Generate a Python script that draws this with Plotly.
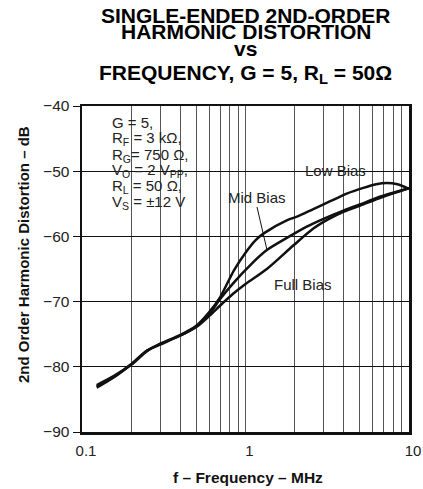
import plotly.graph_objects as go

# ---- data ----
freq_low = [0.123, 0.157, 0.2, 0.25, 0.3, 0.4, 0.5, 0.6, 0.7, 0.85, 1.0, 1.15, 1.3, 1.8, 2.1, 2.6, 3.3, 4.2, 5.2, 6.3, 7.3, 8.5, 10]
low_bias = [-83.0, -81.5, -79.7, -77.6, -76.5, -75.1, -73.7, -71.6, -69.3, -65.2, -62.5, -60.6, -59.5, -57.5, -56.9, -55.8, -54.6, -53.4, -52.6, -52.0, -51.8, -52.0, -52.7]

freq_mid = [0.123, 0.157, 0.2, 0.25, 0.3, 0.4, 0.5, 0.6, 0.7, 0.84, 1.07, 1.35, 1.8, 2.37, 3.0, 4.0, 5.0, 6.5, 8.0, 10]
mid_bias = [-83.2, -81.6, -79.6, -77.5, -76.5, -75.2, -73.8, -71.9, -69.6, -67.2, -64.4, -62.1, -60.2, -58.5, -57.3, -56.0, -55.1, -54.0, -53.3, -52.6]

freq_full = [0.123, 0.157, 0.2, 0.25, 0.3, 0.4, 0.5, 0.6, 0.7, 0.84, 1.0, 1.35, 1.96, 2.6, 3.2, 4.0, 5.0, 6.5, 8.0, 10]
full_bias = [-82.8, -81.4, -79.6, -77.5, -76.6, -75.2, -73.9, -72.2, -70.6, -68.8, -67.3, -65.0, -61.4, -58.8, -57.4, -56.2, -55.3, -54.2, -53.4, -52.6]

x_tickvals = [0.1, 1, 10]
x_ticktext = ["0.1", "1", "10"]
x_minorvals = [0.2, 0.3, 0.4, 0.5, 0.6, 0.7, 0.8, 0.9, 2, 3, 4, 5, 6, 7, 8, 9]
y_tickvals = [-90, -80, -70, -60, -50, -40]

FONT = "Liberation Sans, Arial, Helvetica, sans-serif"
LINE = dict(color="#111111", width=2.5, shape="spline", smoothing=0.8)

fig = go.Figure()
for fx, fy in [(freq_low, low_bias), (freq_mid, mid_bias), (freq_full, full_bias)]:
    fig.add_trace(go.Scatter(x=fx, y=fy, mode="lines", line=LINE, hoverinfo="skip"))

W, H = 423, 489
ML, MT = 82, 106
PW, PH = 327, 326
MR, MB = W - ML - PW, H - MT - PH


def px(xp):
    return (xp - ML) / PW


def py(yp):
    return (H - MB - yp) / PH


# white masking boxes behind labels (above grid, below traces)
for x0, x1, y0, y1 in [(83, 200, 113, 213), (205, 291, 184, 213), (293, 377, 160, 182), (270, 346, 275, 293)]:
    fig.add_shape(type="rect", xref="paper", yref="paper", x0=px(x0), x1=px(x1), y0=py(y1), y1=py(y0),
                  fillcolor="white", line=dict(width=0), layer="between")

# leader line for Mid Bias
fig.add_shape(type="line", xref="paper", yref="paper", x0=px(257), y0=py(207), x1=px(267), y1=py(250),
              line=dict(color="#111111", width=1))

ann = []
# title lines
for txt, yc in [("SINGLE-ENDED 2ND-ORDER", 15), ("HARMONIC DISTORTION", 31), ("vs", 49),
                ("FREQUENCY, G = 5, R<sub>L</sub> = 50Ω", 74)]:
    ann.append(dict(text="<b>" + txt + "</b>", x=px(245.5), y=py(yc), xref="paper", yref="paper",
                    showarrow=False, xanchor="center", yanchor="middle",
                    font=dict(family=FONT, size=21, color="#000000")))

# parameter block
params = ["G = 5,", "R<sub>F</sub> = 3 kΩ,", "R<sub>G</sub>= 750 Ω,", "V<sub>O</sub> = 2 V<sub>PP</sub>,",
          "R<sub>L</sub> = 50 Ω,", "V<sub>S</sub> = ±12 V"]
for txt, yc in zip(params, [122, 138, 155, 170, 186, 202]):
    ann.append(dict(text=txt, x=px(110), y=py(yc), xref="paper", yref="paper", showarrow=False,
                    xanchor="left", yanchor="middle", font=dict(family=FONT, size=15, color="#222222")))

# curve labels
for txt, xc, yc in [("Low Bias", 335, 170), ("Mid Bias", 257, 197), ("Full Bias", 303, 284)]:
    ann.append(dict(text=txt, x=px(xc), y=py(yc), xref="paper", yref="paper", showarrow=False,
                    xanchor="center", yanchor="middle", font=dict(family=FONT, size=15, color="#222222")))

# axis titles
ann.append(dict(text="<b>f – Frequency – MHz</b>", x=px(247.5), y=py(477), xref="paper", yref="paper",
                showarrow=False, xanchor="center", yanchor="middle", font=dict(family=FONT, size=15.5, color="#111111")))
ann.append(dict(text="<b>2nd Order Harmonic Distortion – dB</b>", x=px(23), y=py(255), xref="paper", yref="paper",
                showarrow=False, xanchor="center", yanchor="middle", textangle=-90,
                font=dict(family=FONT, size=15, color="#111111")))

fig.update_layout(
    width=W, height=H, margin=dict(l=ML, r=MR, t=MT, b=MB, autoexpand=False),
    plot_bgcolor="white", paper_bgcolor="white", showlegend=False,
    annotations=ann,
    xaxis=dict(type="log", range=[-1, 1], tickvals=x_tickvals, ticktext=x_ticktext,
               showgrid=True, gridcolor="#555555", gridwidth=1, zeroline=False, automargin=False,
               minor=dict(tickvals=x_minorvals, showgrid=True, gridcolor="#555555", gridwidth=1, ticks=""),
               showline=True, linewidth=2.5, linecolor="#111111", mirror=True, ticks="",
               ticklabelstandoff=3, ticklabelshift=4, tickfont=dict(family=FONT, size=15, color="#222222")),
    yaxis=dict(range=[-90, -40], tickvals=y_tickvals, showgrid=True, gridcolor="#111111", gridwidth=1,
               zeroline=False, showline=True, linewidth=2.5, linecolor="#111111", mirror=True, automargin=False,
               ticks="outside", ticklen=7, tickwidth=1, tickcolor="#111111",
               tickfont=dict(family=FONT, size=15.5, color="#222222")),
)

fig.write_html("out.html", config={"displayModeBar": False, "staticPlot": True},
               post_script="document.body.style.margin='0';document.body.style.overflow='hidden';")
